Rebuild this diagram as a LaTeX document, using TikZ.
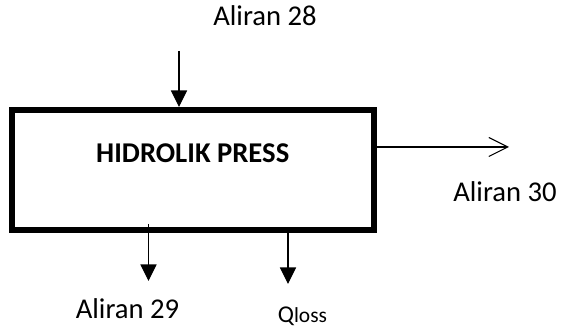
\documentclass[tikz,border=0pt]{standalone}
\usepackage{fontspec}
\setmainfont{Carlito}
\usepackage{tikz}
\usetikzlibrary{
  arrows.meta,
  positioning,
  calc
}
\tikzset{
  pressbox/.style={
    draw, line width=1.2mm, minimum width=72.5mm, minimum height=24mm,
    inner sep=0pt
  },
  boxtitle/.style={font=\fontsize{16.3}{19}\selectfont\bfseries, inner sep=0pt},
  tag/.style={font=\fontsize{16.3}{19}\selectfont, inner sep=0pt},
  stream/.style={-{Triangle[length=3.3mm, width=3.2mm]}, line width=0.6pt},
  product/.style={-{Straight Barb[length=3.8mm, width=3.8mm, line width=0.6pt]}, line width=0.6pt}
}

\begin{document}
\begin{tikzpicture}
  \useasboundingbox (0,0) rectangle (112.6mm,65.6mm);
  % unit block
  \node[pressbox] (press) at (38.55mm,31.6mm) {};
  \node[boxtitle, anchor=base] (title) at ([yshift=1.4mm]press.center) {HIDROLIK PRESS};
  % stream end points
  \coordinate (in28) at (35.8mm,55.4mm);
  \coordinate (out30) at (101.8mm,36.2mm);
  \coordinate (top29) at (29.7mm,20.8mm);
  \coordinate (out29) at (29.7mm,9.4mm);
  \coordinate (outQ) at (57.6mm,8.8mm);
  \draw[stream] (in28) -- (in28 |- press.north);
  \draw[product] (press.east |- out30) -- (out30);
  \draw[stream] (top29) -- (out29);
  \draw[stream] (outQ |- press.south) -- (outQ);
  % labels
  \node[tag, anchor=base] (lbl28) at (53mm,60.4mm) {Aliran 28};
  \node[tag, anchor=base] (lbl30) at (101mm,25.2mm) {Aliran 30};
  \node[tag, anchor=base] (lbl29) at (25.5mm,1.8mm) {Aliran 29};
  \node[inner sep=0pt, anchor=base west] (lblQ) at (55.5mm,1.0mm)
    {\fontsize{13.7}{16}\selectfont Q\fontsize{12.2}{14}\selectfont loss};
\end{tikzpicture}
\end{document}
